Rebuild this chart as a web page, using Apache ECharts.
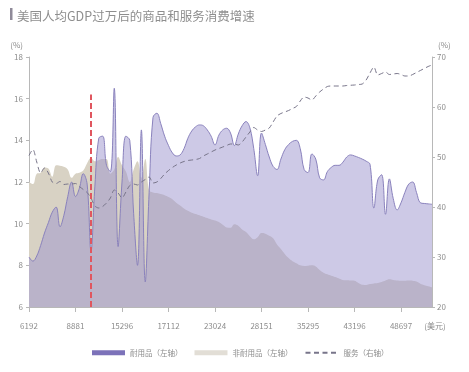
<!DOCTYPE html>
<html>
<head>
<meta charset="utf-8">
<script src="https://cdn.jsdelivr.net/npm/echarts@6/dist/echarts.min.js"></script>
<style>
html,body{margin:0;padding:0;background:#fff;}
#c{width:469px;height:372px;}
</style>
</head>
<body>
<div id="c"></div>
<script>
const titleText = '美国人均GDP过万后的商品和服务消费增速';
const xTickLabels = ['6192','8881','15296','17112','23024','28151','35295','43196','48697'];
const xUnit = '(美元)';
const seriesNames = ['耐用品（左轴）','非耐用品（左轴）','服务（右轴）'];

const durable = [
8.4,8.2,8.45,8.95,9.55,10.05,10.55,10.8,9.85,10.4,
11.3,12.0,11.3,11.7,12.4,11.9,8.7,11.8,14.1,14.2,
12.8,12.5,16.5,8.9,12.0,14.2,14.0,10.5,8.0,14.5,
7.2,11.5,15.1,15.3,14.8,14.2,13.75,13.4,13.25,13.3,
13.6,14.1,14.45,14.65,14.74,14.7,14.5,14.2,13.78,14.25,
14.5,14.58,14.35,13.75,14.3,14.7,14.9,14.6,13.6,12.3,
14.35,13.8,13.2,12.75,12.6,13.1,13.55,13.8,13.95,14.0,
13.6,12.6,12.45,13.35,13.1,12.2,12.1,12.5,12.7,12.8,
12.8,12.95,13.2,13.3,13.25,13.18,13.1,13.0,12.85,10.75,
12.1,12.35,10.45,12.15,11.2,10.66,11.0,11.5,11.9,12.0,
11.5,11.0,10.97,10.95,10.93
];
const nonDurable = [
12.0,11.9,12.4,12.45,12.7,12.65,12.25,12.8,12.78,12.73,
12.6,12.2,12.4,12.45,12.55,12.9,13.15,13.0,13.05,13.1,
13.1,12.4,12.6,13.2,12.8,12.5,12.0,12.6,13.0,12.2,
13.1,11.6,11.5,11.47,11.42,11.37,11.28,11.17,11.0,10.87,
10.73,10.62,10.53,10.47,10.4,10.33,10.27,10.2,10.15,10.08,
9.95,9.82,9.8,9.97,9.9,9.72,9.6,9.4,9.25,9.35,
9.55,9.52,9.42,9.3,9.0,8.78,8.55,8.35,8.2,8.1,
8.0,7.97,7.98,8.0,7.95,7.78,7.65,7.57,7.5,7.44,
7.37,7.3,7.28,7.27,7.26,7.15,7.07,7.06,7.1,7.13,
7.15,7.2,7.27,7.33,7.3,7.27,7.26,7.26,7.27,7.26,
7.22,7.12,7.05,7.0,6.95
];
const services = [
50.3,51.5,49.0,46.8,47.8,46.8,45.0,44.7,45.1,44.5,
44.6,44.6,44.7,44.1,43.5,42.9,41.8,40.2,39.8,40.1,
40.8,41.8,43.4,42.8,41.8,43.0,44.3,44.6,44.4,45.0,
45.5,46.0,44.8,45.0,45.7,46.6,47.3,47.9,48.4,48.8,
49.1,49.3,49.4,49.5,49.7,50.2,50.6,51.0,51.4,51.7,
52.0,52.3,52.6,52.6,52.4,53.0,54.0,55.0,55.9,55.4,
55.1,55.4,55.8,57.0,58.2,58.7,59.0,59.3,59.7,60.1,
61.2,62.0,61.8,61.4,62.2,63.0,63.6,64.1,64.2,64.2,
64.2,64.2,64.3,64.35,64.4,64.5,64.6,65.4,66.8,68.0,
66.4,66.7,67.0,66.5,66.6,66.7,66.5,66.2,66.2,66.5,
66.9,67.3,67.7,68.1,68.4
];
// vertical marker position (category index) and its top value (left axis)
const markerIndex = 16;
const markerTop = 16.2;

const categories = durable.map((_, i) => String(i));
const labelStep = 12;

const chart = echarts.init(document.getElementById('c'), null, {renderer:'canvas'});
const axisGray = '#b8b8b8';
const labelGray = '#8c8c8c';
const ff = "'Noto Sans CJK SC', 'Noto Sans', sans-serif";

chart.setOption({
  animation: false,
  backgroundColor: '#ffffff',
  textStyle: {fontFamily: ff},
  title: {
    text: titleText, left: 12, top: 5,
    textStyle: {fontSize: 12.5, fontWeight: 'normal', color: '#8e8e8e', fontFamily: ff}
  },
  graphic: [{
    type: 'rect', left: 10, top: 8, shape: {width: 2.5, height: 12},
    style: {fill: '#8f8a99'}
  }],
  grid: {left: 29, right: 37, top: 57, bottom: 65},
  legend: {
    left: 87, top: 344, itemWidth: 33, itemHeight: 5, itemGap: 12,
    textStyle: {fontSize: 7.5, color: '#8c8c8c'},
    data: [
      {name: seriesNames[0], icon: 'rect', itemStyle: {color: '#7c72b9'}},
      {name: seriesNames[1], icon: 'rect', itemStyle: {color: '#e2ded6'}},
      {name: seriesNames[2], itemStyle: {opacity: 0}}
    ]
  },
  xAxis: {
    type: 'category', data: categories, boundaryGap: false,
    name: xUnit, nameLocation: 'end', nameGap: 3,
    nameTextStyle: {fontSize: 8, color: labelGray, verticalAlign: 'top', align: 'center', padding: [15, 0, 0, 0]},
    axisLine: {show: true, lineStyle: {color: axisGray, width: 1}},
    axisTick: {show: true, length: 5, interval: labelStep - 1, lineStyle: {color: axisGray}},
    axisLabel: {
      interval: labelStep - 1, margin: 15, fontSize: 8, color: labelGray,
      formatter: (v, i) => (i % labelStep === 0 ? (xTickLabels[i / labelStep] || '') : '')
    },
    splitLine: {show: false}
  },
  yAxis: [{
    type: 'value', min: 6, max: 18, interval: 2,
    name: '(%)', nameLocation: 'end', nameGap: 8,
    nameTextStyle: {fontSize: 8, color: labelGray, align: 'right', padding: [0, 6, 0, 0]},
    axisLine: {show: true, lineStyle: {color: axisGray}},
    axisTick: {show: true, length: 3, lineStyle: {color: axisGray}},
    axisLabel: {fontSize: 8, color: labelGray, margin: 6},
    splitLine: {show: false}
  }, {
    type: 'value', min: 20, max: 70, interval: 10, position: 'right',
    name: '(%)', nameLocation: 'end', nameGap: 8,
    nameTextStyle: {fontSize: 8, color: labelGray, align: 'left', padding: [0, 0, 0, 6]},
    axisLine: {show: true, lineStyle: {color: axisGray}},
    axisTick: {show: true, length: 3, lineStyle: {color: axisGray}},
    axisLabel: {fontSize: 8, color: labelGray, margin: 5},
    splitLine: {show: false}
  }],
  series: [{
    name: seriesNames[1], type: 'line', yAxisIndex: 0, data: nonDurable,
    smooth: 0.4, symbol: 'none', z: 1,
    lineStyle: {width: 0, opacity: 0, color: '#d8d2c4'},
    itemStyle: {color: '#e2ded6'},
    areaStyle: {color: '#d8d2c4', opacity: 1}
  }, {
    name: seriesNames[0], type: 'line', yAxisIndex: 0, data: durable,
    smooth: 0.4, symbol: 'none', z: 2,
    lineStyle: {width: 1, color: '#8a82bd'},
    itemStyle: {color: '#7c72b9'},
    areaStyle: {color: '#9b93cd', opacity: 0.5},
    markLine: {
      silent: true, symbol: 'none', animation: false,
      label: {show: false},
      lineStyle: {color: '#e0565f', type: [6, 3], width: 2},
      data: [[{coord: [markerIndex, 6]}, {coord: [markerIndex, markerTop]}]]
    }
  }, {
    name: seriesNames[2], type: 'line', yAxisIndex: 1, data: services,
    smooth: 0.3, symbol: 'none', z: 3,
    lineStyle: {width: 1, color: '#78758a', type: [5, 3.5]},
    itemStyle: {color: '#78758a'}
  }]
});
</script>
</body>
</html>
